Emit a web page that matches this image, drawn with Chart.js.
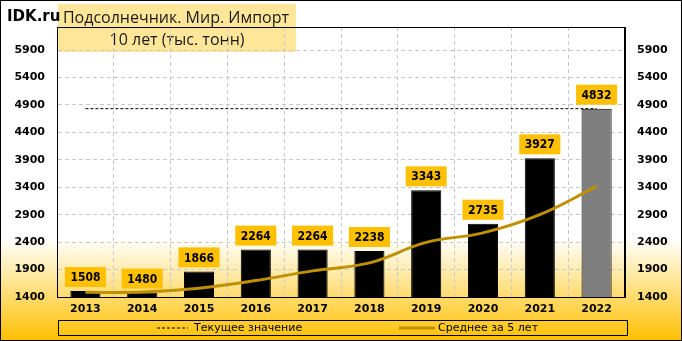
<!DOCTYPE html>
<html>
<head>
<meta charset="utf-8">
<script src="https://cdn.jsdelivr.net/npm/chart.js@4/dist/chart.umd.min.js"></script>
<style>
  html, body { margin: 0; padding: 0; background: #fff; }
</style>
</head>
<body>
<canvas id="chart" width="682" height="341"></canvas>
<script>
// Data
const years = ['2013', '2014', '2015', '2016', '2017', '2018', '2019', '2020', '2021', '2022'];
const imports = [1508, 1480, 1866, 2264, 2264, 2238, 3343, 2735, 3927, 4832];
const avg5 = [1485, 1490, 1560, 1700, 1876, 2022, 2395, 2569, 2901, 3415];
const current = [4832, 4832, 4832, 4832, 4832, 4832, 4832, 4832, 4832, 4832];
const yTicks = [1400, 1900, 2400, 2900, 3400, 3900, 4400, 4900, 5400, 5900];

const tickFont = { family: 'DejaVu Sans', size: 11, weight: 'bold' };

// Background, title box, frame, labels, legend
const decor = {
    id: 'decor',
    beforeDraw(chart) {
        const ctx = chart.ctx;
        ctx.save();
        ctx.fillStyle = '#ffffff';
        ctx.fillRect(0, 0, 682, 341);
        const g = ctx.createLinearGradient(0, 238, 0, 341);
        g.addColorStop(0, '#ffffff');
        g.addColorStop(1, '#ffc000');
        ctx.fillStyle = g;
        ctx.fillRect(0, 238, 682, 103);

        // title box
        ctx.fillStyle = '#ffe699';
        ctx.fillRect(58, 4, 238, 48);
        ctx.fillStyle = '#1a1a1a';
        ctx.font = '16px "Open Sans"';
        ctx.textAlign = 'center';
        ctx.textBaseline = 'middle';
        ctx.fillText('Подсолнечник. Мир. Импорт', 176, 18);
        ctx.fillText('10 лет (тыс. тонн)', 177, 40);
        ctx.restore();
    },
    afterDatasetsDraw(chart) {
        const ctx = chart.ctx;
        const meta = chart.getDatasetMeta(1);
        ctx.save();
        ctx.font = 'bold 12px "DejaVu Sans Condensed", "DejaVu Sans"';
        ctx.textAlign = 'center';
        ctx.textBaseline = 'middle';
        meta.data.forEach((bar, i) => {
            const txt = String(imports[i]);
            const w = ctx.measureText(txt).width + 11;
            const cy = bar.y - 14;
            ctx.fillStyle = '#ffc000';
            ctx.fillRect(bar.x - w / 2, cy - 10, w, 20);
            ctx.fillStyle = '#000';
            ctx.fillText(txt, bar.x, cy + 1);
        });
        ctx.restore();
    },
    afterDraw(chart) {
        const ctx = chart.ctx;
        const a = chart.chartArea;
        ctx.save();
        ctx.strokeStyle = '#000';
        ctx.lineWidth = 1;
        ctx.strokeRect(Math.round(a.left) + 0.5, Math.round(a.top) + 0.5,
            Math.round(a.right - a.left) - 1, Math.round(a.bottom - a.top));
        ctx.strokeRect(0.5, 0.5, 681, 340);

        // IDK.ru
        ctx.fillStyle = '#000';
        ctx.font = 'bold 15px "DejaVu Sans"';
        ctx.textAlign = 'left';
        ctx.textBaseline = 'middle';
        ctx.fillText('IDK.ru', 7, 17);

        // legend
        ctx.strokeRect(58.5, 320.5, 569, 15);
        const ly = 328;
        ctx.beginPath();
        ctx.setLineDash([3, 2]);
        ctx.moveTo(157, ly);
        ctx.lineTo(188, ly);
        ctx.stroke();
        ctx.setLineDash([]);
        ctx.beginPath();
        ctx.strokeStyle = '#bf9000';
        ctx.lineWidth = 3;
        ctx.moveTo(399, ly);
        ctx.lineTo(435, ly);
        ctx.stroke();
        ctx.font = '11px "DejaVu Sans"';
        ctx.fillStyle = '#000';
        ctx.fillText(chart.data.datasets[2].label, 194, ly);
        ctx.fillText(chart.data.datasets[0].label, 438, ly);
        ctx.restore();
    }
};

new Chart(document.getElementById('chart'), {
    type: 'bar',
    data: {
        labels: years,
        datasets: [
            {
                type: 'line',
                label: 'Среднее за 5 лет',
                data: avg5,
                borderColor: '#bf9000',
                borderWidth: 3,
                tension: 0.4,
                pointRadius: 0,
                fill: false,
                order: 0
            },
            {
                label: 'Импорт',
                data: imports,
                backgroundColor: imports.map((v, i) => i === imports.length - 1 ? '#7f7f7f' : '#000000'),
                borderColor: '#000000',
                borderWidth: 1,
                barPercentage: 0.53,
                categoryPercentage: 1,
                order: 1
            },
            {
                type: 'line',
                label: 'Текущее значение',
                data: current,
                borderColor: '#000000',
                borderWidth: 1,
                borderDash: [3, 2],
                pointRadius: 0,
                fill: false,
                order: 2
            }
        ]
    },
    options: {
        responsive: false,
        animation: false,
        layout: { padding: { left: 10, right: 10, top: 27, bottom: 24 } },
        plugins: {
            legend: { display: false },
            tooltip: { enabled: false }
        },
        scales: {
            x: {
                grid: { color: '#c8c8c8', drawTicks: false, offset: true },
                border: { display: true, color: '#000', dash: [4, 3] },
                ticks: { color: '#000', font: tickFont, padding: 6 },
                afterFit(s) { s.height = 20; }
            },
            y: {
                min: 1400,
                max: 6320,
                afterBuildTicks(s) { s.ticks = yTicks.map(v => ({ value: v })); },
                grid: { color: '#c8c8c8', drawTicks: false },
                border: { color: '#000', dash: [4, 3] },
                ticks: { color: '#000', font: tickFont, padding: 12, callback: v => String(v) },
                afterFit(s) { s.width = 47; }
            },
            y2: {
                position: 'right',
                min: 1400,
                max: 6320,
                afterBuildTicks(s) { s.ticks = yTicks.map(v => ({ value: v })); },
                grid: { display: false, drawTicks: false },
                border: { color: '#000' },
                ticks: { color: '#000', font: tickFont, padding: 12, callback: v => String(v) },
                afterFit(s) { s.width = 47; }
            }
        }
    },
    plugins: [decor]
});
</script>
</body>
</html>
